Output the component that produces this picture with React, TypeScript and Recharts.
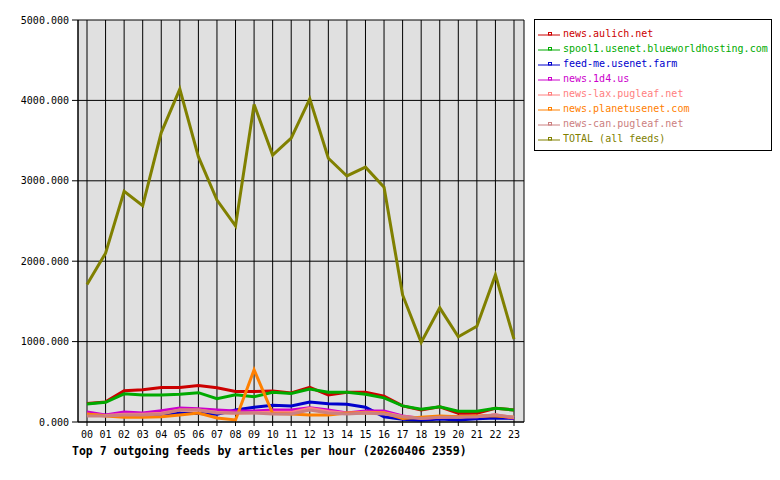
import { LineChart, Line, XAxis, YAxis, CartesianGrid } from 'recharts';

const hours = ['00', '01', '02', '03', '04', '05', '06', '07', '08', '09', '10', '11', '12', '13', '14', '15', '16', '17', '18', '19', '20', '21', '22', '23'];

const aulich = [230, 250, 390, 400, 430, 430, 455, 425, 380, 380, 385, 360, 430, 335, 370, 370, 320, 200, 150, 190, 110, 110, 170, 150];
const spool1 = [225, 245, 350, 335, 335, 345, 365, 290, 340, 315, 370, 355, 410, 370, 370, 345, 300, 200, 158, 190, 135, 135, 170, 150];
const feedMe = [90, 85, 95, 90, 100, 110, 105, 95, 150, 183, 208, 200, 248, 228, 220, 183, 66, 33, 22, 36, 25, 40, 50, 45];
const news1d4 = [124, 87, 124, 112, 141, 174, 166, 149, 137, 137, 149, 149, 178, 149, 112, 137, 137, 75, 45, 58, 66, 66, 87, 45];
const lax = [95, 80, 95, 95, 110, 150, 150, 120, 110, 115, 120, 120, 170, 130, 110, 120, 115, 70, 50, 60, 65, 70, 90, 55];
const planet = [100, 75, 58, 58, 66, 87, 112, 50, 25, 650, 105, 100, 87, 87, 112, 112, 112, 45, 58, 75, 66, 75, 75, 58];
const can = [75, 75, 87, 87, 100, 149, 149, 112, 112, 112, 100, 100, 149, 112, 100, 112, 100, 66, 45, 58, 58, 66, 87, 58];
const total = [1710, 2100, 2870, 2690, 3600, 4140, 3300, 2760, 2440, 3950, 3320, 3530, 4020, 3280, 3060, 3170, 2920, 1580, 990, 1420, 1060, 1190, 1830, 1030];

const yTicks = [0, 1000, 2000, 3000, 4000, 5000];

const series = [
  { key: 'aulich', name: 'news.aulich.net', color: '#cc0000', values: aulich },
  { key: 'spool1', name: 'spool1.usenet.blueworldhosting.com', color: '#00aa00', values: spool1 },
  { key: 'feedMe', name: 'feed-me.usenet.farm', color: '#0000cc', values: feedMe },
  { key: 'news1d4', name: 'news.1d4.us', color: '#cc00cc', values: news1d4 },
  { key: 'lax', name: 'news-lax.pugleaf.net', color: '#ff8080', values: lax },
  { key: 'planet', name: 'news.planetusenet.com', color: '#ff8000', values: planet },
  { key: 'can', name: 'news-can.pugleaf.net', color: '#cc8080', values: can },
  { key: 'total', name: 'TOTAL (all feeds)', color: '#808000', values: total },
];

const data = hours.map((h, i) => {
  const row: any = { hour: h };
  series.forEach((s) => { row[s.key] = s.values[i]; });
  return row;
});

const mono = '"DejaVu Sans Mono", "Liberation Mono", monospace';

// legend box sits to the right of the plot, outside the chart's layout
function FeedLegend() {
  return (
    <div style={{ position: 'absolute', left: 534, top: 19, width: 238, height: 132, boxSizing: 'border-box', border: '1px solid #000', background: '#fff', padding: '6px 0 0 3px' }}>
      {series.map((s) => (
        <div key={s.key} style={{ display: 'flex', alignItems: 'center', height: 15, fontFamily: mono, fontSize: 10, color: s.color, whiteSpace: 'nowrap' }}>
          <svg width={24} height={8} style={{ marginRight: 1 }}>
            <line x1={0} y1={5} x2={22} y2={5} stroke={s.color} strokeWidth={1} />
            <rect x={10.5} y={2.5} width={3} height={2.5} fill="none" stroke={s.color} strokeWidth={1} />
          </svg>
          {s.name}
        </div>
      ))}
    </div>
  );
}

export default function App() {
  return (
    <div style={{ position: 'absolute', left: 0, top: 0, width: 780, height: 480, background: '#fff' }}>
      <LineChart width={780} height={480} data={data} margin={{ top: 20, right: 256, bottom: 28, left: 0 }}>
        <CartesianGrid stroke="#000" strokeWidth={1} fill="#e0e0e0" strokeOpacity={1} />
        <XAxis
          dataKey="hour"
          padding={{ left: 9, right: 10 }}
          interval={0}
          height={30}
          tickSize={4}
          tickMargin={5}
          stroke="#000"
          tick={{ fill: '#000', fontFamily: mono, fontSize: 10 }}
        />
        <YAxis
          width={78}
          domain={[0, 5000]}
          ticks={yTicks}
          tickFormatter={(v: number) => v.toFixed(3)}
          tickSize={6}
          tickMargin={3}
          stroke="#000"
          tick={{ fill: '#000', fontFamily: mono, fontSize: 10 }}
        />
        <YAxis yAxisId="right" orientation="right" width={0} domain={[0, 5000]} tick={false} tickLine={false} stroke="#000" />
        {series.map((s) => (
          <Line
            key={s.key}
            type="linear"
            dataKey={s.key}
            name={s.name}
            stroke={s.color}
            strokeWidth={3}
            dot={false}
            activeDot={false}
            isAnimationActive={false}
          />
        ))}
      </LineChart>
      <FeedLegend />
      <div style={{ position: 'absolute', left: 72, top: 444, fontFamily: mono, fontWeight: 'bold', fontSize: 11.5, color: '#000', whiteSpace: 'nowrap' }}>
        Top 7 outgoing feeds by articles per hour (20260406 2359)
      </div>
    </div>
  );
}
